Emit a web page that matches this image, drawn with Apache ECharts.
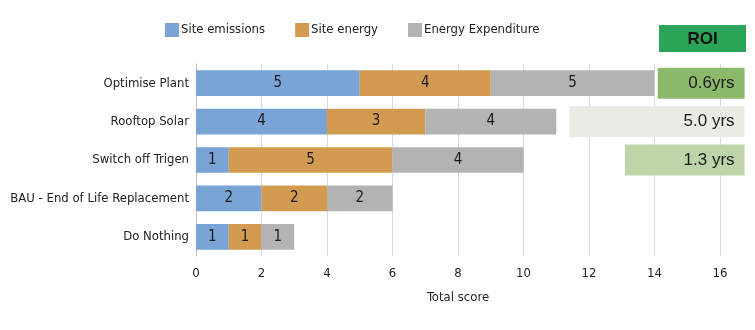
<!DOCTYPE html>
<html>
<head>
<meta charset="utf-8">
<script src="https://cdn.jsdelivr.net/npm/echarts@6/dist/echarts.min.js"></script>
<style>html,body{margin:0;padding:0;background:#fff}#c{width:755px;height:330px}</style>
</head>
<body>
<div id="c"></div>
<script>
const categories = ['Optimise Plant', 'Rooftop Solar', 'Switch off Trigen', 'BAU - End of Life Replacement', 'Do Nothing'];
const siteEmissions = [5, 4, 1, 2, 1];
const siteEnergy = [4, 3, 5, 2, 1];
const energyExpenditure = [5, 4, 4, 2, 1];
const xTicks = [0, 2, 4, 6, 8, 10, 12, 14, 16];
const roiCategories = ['Optimise Plant', 'Rooftop Solar', 'Switch off Trigen'];
const roiLabels = ['0.6yrs', '5.0 yrs', '1.3 yrs'];
const roiStart = [14.1, 11.4, 13.1];
const roiEnd = [16.75, 16.75, 16.75];

const FONT = "'Liberation Sans Narrow', 'DejaVu Sans Condensed', 'Roboto', sans-serif";
const roiFill = ['#8cba6a', '#e9ece4', '#bdd5a9'];

const chart = echarts.init(document.getElementById('c'), null, {renderer: 'canvas'});
const barLabel = {show: true, position: 'inside', color: '#1a1a1a', fontSize: 15, fontFamily: FONT};

chart.setOption({
  animation: false,
  textStyle: {fontFamily: FONT},
  legend: {
    left: 160, top: 18, itemWidth: 14, itemHeight: 14, itemGap: 30,
    icon: 'rect',
    textStyle: {fontSize: 13, color: '#222', fontFamily: FONT, padding: [0, 0, 0, -3]},
    data: ['Site emissions', 'Site energy', 'Energy Expenditure']
  },
  grid: {left: 196, right: 35, top: 64, bottom: 74, containLabel: false},
  xAxis: {
    type: 'value', min: xTicks[0], max: xTicks[xTicks.length - 1], interval: 2,
    name: 'Total score', nameLocation: 'middle', nameGap: 35,
    nameTextStyle: {fontSize: 13, color: '#222', fontFamily: FONT},
    axisLine: {show: false}, axisTick: {show: false},
    axisLabel: {fontSize: 13, color: '#222', margin: 11, fontFamily: FONT},
    splitLine: {show: true, lineStyle: {color: '#d9d9d9', width: 1}}
  },
  yAxis: {
    type: 'category', data: categories, inverse: true,
    axisLine: {show: true, lineStyle: {color: '#bfbfbf', width: 1}},
    axisTick: {show: false},
    axisLabel: {fontSize: 13, color: '#222', margin: 7, fontFamily: FONT}
  },
  graphic: [{
    type: 'group', left: 659, top: 25,
    children: [
      {type: 'rect', shape: {x: 0, y: 0, width: 87, height: 27}, style: {fill: '#2aa457'}},
      {type: 'text', x: 43.5, y: 14, style: {text: 'ROI', fontSize: 17, fontWeight: 'bold', fill: '#111', align: 'center', verticalAlign: 'middle', fontFamily: "'Liberation Sans', 'DejaVu Sans', sans-serif"}}
    ]
  }],
  series: [
    {name: 'Site emissions', type: 'bar', stack: 't', barCategoryGap: '33%', data: siteEmissions, itemStyle: {color: '#7aa3d6'}, label: barLabel},
    {name: 'Site energy', type: 'bar', stack: 't', data: siteEnergy, itemStyle: {color: '#d39a52'}, label: barLabel},
    {name: 'Energy Expenditure', type: 'bar', stack: 't', data: energyExpenditure, itemStyle: {color: '#b3b3b4'}, label: barLabel},
    {
      name: 'ROI', type: 'custom', clip: false, z: 5,
      encode: {x: [0, 2], y: 1},
      data: roiCategories.map((c, i) => [roiStart[i], c, roiEnd[i], roiLabels[i]]),
      renderItem: function (params, api) {
        const a = api.coord([api.value(0), api.value(1)]);
        const b = api.coord([api.value(2), api.value(1)]);
        const h = api.size([0, 1])[1] * 0.81;
        return {
          type: 'rect',
          shape: {x: a[0], y: a[1] - h / 2, width: b[0] - a[0], height: h},
          style: {fill: roiFill[params.dataIndex]},
          textContent: {style: {text: roiLabels[params.dataIndex], fontSize: 17, fill: '#1a1a1a', fontFamily: "'Liberation Sans', 'DejaVu Sans', sans-serif"}},
          textConfig: {position: 'insideRight', distance: 10}
        };
      }
    }
  ]
});
</script>
</body>
</html>
